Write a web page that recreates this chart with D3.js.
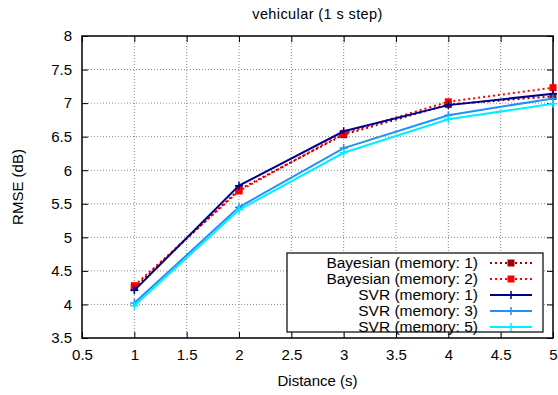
<!DOCTYPE html>
<html>
<head>
<meta charset="utf-8">
<script src="https://cdn.jsdelivr.net/npm/d3@7"></script>
<style>
  body { margin: 0; background: #fff; }
  svg { font-family: "Liberation Sans", Arial, sans-serif; }
</style>
</head>
<body>
<svg id="chart" width="558" height="395"></svg>
<script>
const distances = [1, 2, 3, 4, 5];
const bayes1 = [4.25, 5.71, 6.53, 6.98, 7.10];
const bayes2 = [4.28, 5.69, 6.55, 7.02, 7.23];
const svr1 = [4.21, 5.77, 6.58, 6.97, 7.14];
const svr3 = [4.02, 5.45, 6.33, 6.82, 7.07];
const svr5 = [3.98, 5.41, 6.26, 6.76, 6.99];
const xTicks = [0.5, 1, 1.5, 2, 2.5, 3, 3.5, 4, 4.5, 5];
const yTicks = [3.5, 4, 4.5, 5, 5.5, 6, 6.5, 7, 7.5, 8];

const series = [
    { name: 'Bayesian (memory: 1)', values: bayes1, color: '#a00000', dash: '2,3', marker: 'square' },
    { name: 'Bayesian (memory: 2)', values: bayes2, color: '#ff0000', dash: '2,3', marker: 'square' },
    { name: 'SVR (memory: 1)', values: svr1, color: '#000090', dash: null, marker: 'plus' },
    { name: 'SVR (memory: 3)', values: svr3, color: '#2090ff', dash: null, marker: 'plus' },
    { name: 'SVR (memory: 5)', values: svr5, color: '#00eeff', dash: null, marker: 'plus' }
];

const margin = { left: 82, right: 5, top: 36, bottom: 57 };
const width = 558, height = 395;
const svg = d3.select('#chart');

const x = d3.scaleLinear().domain([0.5, 5]).range([margin.left, width - margin.right]);
const y = d3.scaleLinear().domain([3.5, 8]).range([height - margin.bottom, margin.top]);

// grid
const grid = svg.append('g');
xTicks.slice(1, -1).forEach(t => {
    grid.append('line')
        .attr('x1', x(t)).attr('x2', x(t))
        .attr('y1', y(3.5)).attr('y2', y(8))
        .attr('stroke', '#888').attr('stroke-dasharray', '1,2');
});
yTicks.slice(1, -1).forEach(t => {
    grid.append('line')
        .attr('x1', x(0.5)).attr('x2', x(5))
        .attr('y1', y(t)).attr('y2', y(t))
        .attr('stroke', '#888').attr('stroke-dasharray', '1,2');
});

// axes with inward ticks (mirrored like gnuplot)
const tickLen = 6;
svg.append('g')
    .attr('transform', `translate(0,${y(3.5)})`)
    .call(d3.axisBottom(x).tickValues(xTicks).tickFormat(d3.format('')).tickSizeInner(-tickLen).tickSizeOuter(0).tickPadding(11))
    .call(g => g.select('.domain').remove());
svg.append('g')
    .attr('transform', `translate(0,${y(8)})`)
    .call(d3.axisTop(x).tickValues(xTicks).tickFormat('').tickSizeInner(-tickLen).tickSizeOuter(0))
    .call(g => g.select('.domain').remove());
svg.append('g')
    .attr('transform', `translate(${x(0.5)},0)`)
    .call(d3.axisLeft(y).tickValues(yTicks).tickFormat(d3.format('')).tickSizeInner(-tickLen).tickSizeOuter(0).tickPadding(10))
    .call(g => g.select('.domain').remove());
svg.append('g')
    .attr('transform', `translate(${x(5)},0)`)
    .call(d3.axisRight(y).tickValues(yTicks).tickFormat('').tickSizeInner(-tickLen).tickSizeOuter(0))
    .call(g => g.select('.domain').remove());

svg.selectAll('.tick line').attr('stroke', '#000');
svg.selectAll('.tick text').attr('font-size', 15).attr('fill', '#000')
    .attr('font-family', '"Liberation Sans", Arial, sans-serif');

// frame
svg.append('rect')
    .attr('x', x(0.5)).attr('y', y(8))
    .attr('width', x(5) - x(0.5)).attr('height', y(3.5) - y(8))
    .attr('fill', 'none').attr('stroke', '#000').attr('stroke-width', 1.5);

// labels
svg.append('text')
    .attr('x', (x(0.5) + x(5)) / 2).attr('y', 19)
    .attr('text-anchor', 'middle').attr('font-size', 14.5)
    .attr('letter-spacing', 0.4)
    .text('vehicular (1 s step)');
svg.append('text')
    .attr('x', (x(0.5) + x(5)) / 2).attr('y', 386)
    .attr('text-anchor', 'middle').attr('font-size', 15)
    .text('Distance (s)');
svg.append('text')
    .attr('transform', `translate(23,${(y(3.5) + y(8)) / 2}) rotate(-90)`)
    .attr('text-anchor', 'middle').attr('font-size', 15)
    .text('RMSE (dB)');

function drawMarker(g, type, cx, cy, color) {
    if (type === 'square') {
        g.append('rect')
            .attr('x', cx - 3.5).attr('y', cy - 3.5)
            .attr('width', 7).attr('height', 7)
            .attr('fill', color);
    } else {
        g.append('path')
            .attr('d', `M${cx - 4},${cy}H${cx + 4}M${cx},${cy - 4}V${cy + 4}`)
            .attr('stroke', color).attr('stroke-width', 1.5);
    }
}

const line = d3.line()
    .x((d, i) => x(distances[i]))
    .y(d => y(d));

const plot = svg.append('g');
series.forEach(s => {
    plot.append('path')
        .datum(s.values)
        .attr('d', line)
        .attr('fill', 'none')
        .attr('stroke', s.color)
        .attr('stroke-width', 2)
        .attr('stroke-dasharray', s.dash);
    s.values.forEach((v, i) => drawMarker(plot, s.marker, x(distances[i]), y(v), s.color));
});

// legend
const legend = svg.append('g');
legend.append('rect')
    .attr('x', 287).attr('y', 253)
    .attr('width', 256).attr('height', 79)
    .attr('fill', '#fff').attr('stroke', '#000').attr('stroke-width', 1.2);
series.forEach((s, i) => {
    const ly = 263 + i * 16;
    legend.append('text')
        .attr('x', 478).attr('y', ly)
        .attr('dy', '0.35em')
        .attr('text-anchor', 'end').attr('font-size', 15.5)
        .text(s.name);
    legend.append('line')
        .attr('x1', 490).attr('x2', 532)
        .attr('y1', ly).attr('y2', ly)
        .attr('stroke', s.color).attr('stroke-width', 2)
        .attr('stroke-dasharray', s.dash);
    drawMarker(legend, s.marker, 511, ly, s.color);
});
</script>
</body>
</html>
